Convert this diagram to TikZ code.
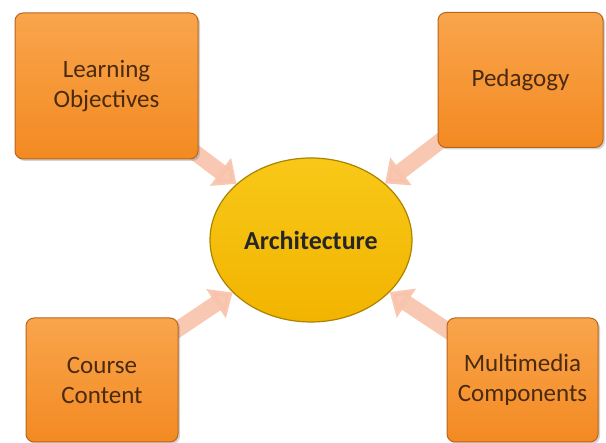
\documentclass[tikz,border=0pt]{standalone}
\usepackage{fontspec}
\setmainfont{Carlito}
\usetikzlibrary{arrows.meta,shadows,backgrounds}

\definecolor{boxtop}{HTML}{F9A54C}
\definecolor{boxbot}{HTML}{F38A22}
\definecolor{boxline}{HTML}{B8661E}
\definecolor{elltop}{HTML}{F8C818}
\definecolor{ellbot}{HTML}{F2B400}
\definecolor{ellline}{HTML}{A88400}
\definecolor{arrowfill}{HTML}{F8C2AA}
\definecolor{boxtext}{HTML}{4A2A10}

\tikzset{
  topicbox/.style={draw=boxline, line width=1pt, rounded corners=8pt,
    top color=boxtop, bottom color=boxbot, text=boxtext, align=center,
    font=\fontsize{25}{30}\selectfont,
    drop shadow={shadow xshift=2pt, shadow yshift=-2pt, opacity=0.35}},
  hub/.style={ellipse, draw=ellline, line width=1.2pt,
    top color=elltop, bottom color=ellbot, text=black!85,
    font=\fontsize{26}{30}\selectfont\bfseries},
  bigarrow/.style={arrowfill, line width=16pt, opacity=0.9,
    -{Triangle[width=34pt,length=20pt]}}
}
\usetikzlibrary{shapes.geometric}

\begin{document}
\begin{tikzpicture}[x=1pt,y=1pt,line join=round]
    \useasboundingbox (0,0) rectangle (606,443);

    % Centre
    \node[hub, minimum width=202pt, minimum height=164pt, inner sep=0pt] (arch) at (311,203) {Architecture};

    % Topics
    \node[topicbox, minimum width=183pt, minimum height=146pt] (lo) at (106.5,357) {Learning\\Objectives};
    \node[topicbox, minimum width=165pt, minimum height=135pt] (ped) at (520.5,363) {Pedagogy};
    \node[topicbox, minimum width=152pt, minimum height=124pt] (cc) at (102,63) {Course\\Content};
    \node[topicbox, minimum width=151pt, minimum height=124pt] (mm) at (522.5,63) {Multimedia\\Components};

    % Arrows into the centre
    \begin{scope}[on background layer]
      \foreach \from in {lo,ped,cc,mm}
        \draw[bigarrow, shorten <=-22pt] (\from) -- (arch);
    \end{scope}
\end{tikzpicture}
\end{document}
